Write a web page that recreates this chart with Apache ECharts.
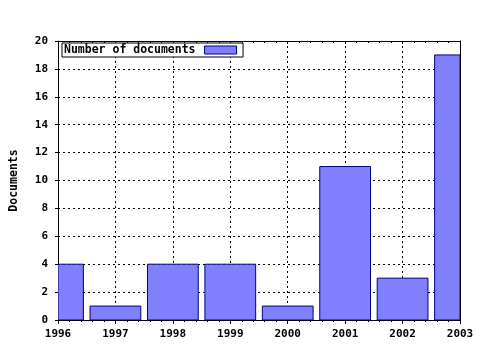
<!DOCTYPE html>
<html><head><meta charset="utf-8">
<script src="https://cdn.jsdelivr.net/npm/echarts@6/dist/echarts.min.js"></script>
<style>html,body{margin:0;padding:0;background:#fff}#c{width:480px;height:350px}</style>
</head><body><div id="c"></div>
<script>
const years = [1996, 1997, 1998, 1999, 2000, 2001, 2002, 2003];
const documents = [4, 1, 4, 4, 1, 11, 3, 19];
const seriesName = 'Number of documents';
const yAxisTitle = 'Documents';

const font = 'DejaVu Sans Mono';
const chart = echarts.init(document.getElementById('c'), null, {renderer: 'canvas'});
const lbl = {color: '#000', fontFamily: font, fontWeight: 'bold', fontSize: 11};
chart.setOption({
  animation: false,
  backgroundColor: '#fff',
  grid: {left: 56, right: 20, top: 41, bottom: 30},
  legend: {
    left: 62, top: 43, align: 'right',
    data: [seriesName],
    backgroundColor: '#fff', borderColor: '#000', borderWidth: 1,
    padding: [1, 6, 1, 2], itemWidth: 32, itemHeight: 8, itemGap: 0,
    icon: 'rect',
    itemStyle: {color: '#8080ff', borderColor: '#000080', borderWidth: 1},
    textStyle: {color: '#000', fontFamily: font, fontWeight: 'bold', fontSize: 11.5, padding: [0, 4, 0, 0], lineHeight: 12}
  },
  xAxis: [{
    type: 'value', min: years[0], max: years[years.length - 1], interval: 1,
    position: 'bottom',
    axisLine: {show: true, onZero: false, lineStyle: {color: '#000', width: 1}},
    axisTick: {show: true, length: 4, lineStyle: {color: '#000'}},
    minorTick: {show: true, splitNumber: 5, length: 2, lineStyle: {color: '#000'}},
    axisLabel: Object.assign({margin: 9, formatter: v => String(v)}, lbl),
    splitLine: {show: true, lineStyle: {color: '#000', type: [2, 3], width: 1}}
  }, {
    type: 'value', min: years[0], max: years[years.length - 1], interval: 1,
    position: 'top',
    axisLine: {show: true, onZero: false, lineStyle: {color: '#000', width: 1}},
    axisTick: {show: true, inside: true, length: 3, lineStyle: {color: '#000'}},
    minorTick: {show: true, splitNumber: 5, length: 2, lineStyle: {color: '#000'}},
    axisLabel: {show: false},
    splitLine: {show: false}
  }],
  yAxis: [{
    type: 'value', min: 0, max: 20, interval: 2,
    name: yAxisTitle, nameLocation: 'middle', nameGap: 38, nameRotate: 90,
    nameTextStyle: {color: '#000', fontFamily: font, fontWeight: 'bold', fontSize: 11.5},
    axisLine: {show: true, lineStyle: {color: '#000', width: 1}},
    axisTick: {show: true, length: 3, lineStyle: {color: '#000'}},
    axisLabel: Object.assign({margin: 10}, lbl),
    splitLine: {show: true, lineStyle: {color: '#000', type: [2, 3], width: 1}}
  }, {
    type: 'value', min: 0, max: 20, interval: 2, position: 'right',
    axisLine: {show: true, lineStyle: {color: '#000', width: 1}},
    axisTick: {show: false}, axisLabel: {show: false}, splitLine: {show: false}
  }],
  series: [{
    name: seriesName, type: 'custom', xAxisIndex: 0, yAxisIndex: 0,
    clip: true,
    data: years.map((y, i) => [y, documents[i]]),
    itemStyle: {color: '#8080ff', borderColor: '#000080', borderWidth: 1},
    renderItem: function (params, api) {
      const x = api.value(0), v = api.value(1);
      const base = api.coord([x, 0]);
      const top = api.coord([x, v]);
      const w = api.size([1, 0])[0] * 0.884;
      const cs = params.coordSys;
      const shape = echarts.graphic.clipRectByRect(
        {x: base[0] - w / 2, y: top[1], width: w, height: base[1] - top[1]},
        {x: cs.x, y: cs.y, width: cs.width, height: cs.height});
      if (!shape) return null;
      return {type: 'rect', shape: shape,
        style: {fill: '#8080ff', stroke: '#000080', lineWidth: 1}};
    }
  }]
});
</script></body></html>
